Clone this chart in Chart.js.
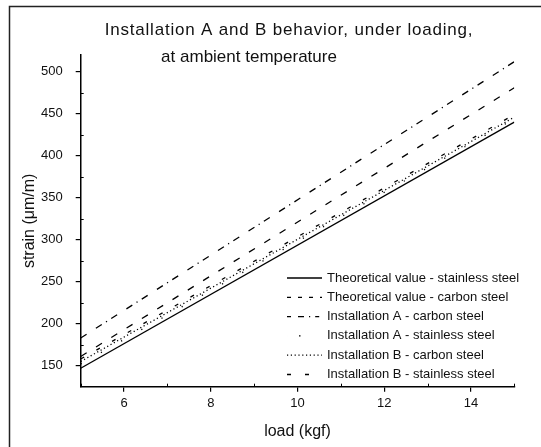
<!DOCTYPE html>
<html>
<head>
<meta charset="utf-8">
<script src="https://cdn.jsdelivr.net/npm/chart.js@4/dist/chart.umd.min.js"></script>
<style>
  html, body { margin: 0; padding: 0; background: #fff; }
  #wrap { width: 541px; height: 447px; }
</style>
</head>
<body>
<div id="wrap"><canvas id="c" width="541" height="447"></canvas></div>
<script>
// Load (kgf) at which each curve is given
const loads = [5, 15];

// Strain (µm/m) for each series
const theoStainless = [147, 440];
const theoCarbon = [161, 481];
const instACarbon = [183, 512];
const instAStainless = [152, 444];
const instBCarbon = [155, 446];
const instBStainless = [158, 449];

// Axis tick labels
const xTicks = [6, 8, 10, 12, 14];
const yTicks = [150, 200, 250, 300, 350, 400, 450, 500];
const xMinor = [5, 7, 9, 11, 13, 15];
const yMinor = [175, 225, 275, 325, 375, 425, 475];

const titleLines = ['Installation A and B behavior, under loading,', 'at ambient temperature'];

const FONT = '"Liberation Sans", Arial, Helvetica, sans-serif';

function pts(ys) { return loads.map((x, i) => ({ x: x, y: ys[i] })); }

function series(label, ys, dash, width) {
  return {
    label: label,
    data: pts(ys),
    borderColor: '#000',
    backgroundColor: '#000',
    borderWidth: width || 1.3,
    borderDash: dash,
    pointRadius: 0,
    fill: false,
    tension: 0
  };
}

// Frame, title, minor ticks and in-plot legend
const decor = {
  id: 'decor',
  afterDraw(chart) {
    const ctx = chart.ctx;
    const xs = chart.scales.x, ys = chart.scales.y;
    ctx.save();

    // outer frame
    ctx.strokeStyle = '#222';
    ctx.lineWidth = 1.5;
    ctx.beginPath();
    ctx.moveTo(9.5, 447);
    ctx.lineTo(9.5, 6.5);
    ctx.lineTo(541, 6.5);
    ctx.stroke();

    // title
    ctx.fillStyle = '#111';
    ctx.font = '17px ' + FONT;
    ctx.textAlign = 'center';
    ctx.textBaseline = 'middle';
    ctx.letterSpacing = '0.8px';
    ctx.fillText(titleLines[0], 289, 30);
    ctx.letterSpacing = '0px';
    ctx.fillText(titleLines[1], 249, 57);

    // minor ticks pointing into the plot
    ctx.strokeStyle = '#000';
    ctx.lineWidth = 1;
    const left = chart.chartArea.left, bottom = chart.chartArea.bottom;
    ctx.beginPath();
    yMinor.forEach(v => {
      const y = Math.round(ys.getPixelForValue(v)) + 0.5;
      ctx.moveTo(left, y); ctx.lineTo(left + 3, y);
    });
    xMinor.forEach(v => {
      const x = Math.round(xs.getPixelForValue(v)) + 0.5;
      ctx.moveTo(x, bottom); ctx.lineTo(x, bottom - 3);
    });
    ctx.stroke();

    // legend inside the plot area
    const lx0 = 287, lx1 = 322, tx = 327, ty0 = 278, step = 19.3;
    ctx.font = '13px ' + FONT;
    ctx.textAlign = 'left';
    ctx.textBaseline = 'middle';
    chart.data.datasets.forEach((ds, i) => {
      const y = ty0 + i * step;
      ctx.save();
      ctx.strokeStyle = ds.borderColor;
      ctx.lineWidth = ds.borderWidth;
      ctx.setLineDash(ds.legendDash || ds.borderDash || []);
      ctx.beginPath();
      ctx.moveTo(lx0, y); ctx.lineTo(lx1, y);
      ctx.stroke();
      ctx.restore();
      ctx.fillStyle = '#111';
      ctx.fillText(ds.label, tx, y);
    });
    ctx.restore();
  }
};

const datasets = [
  series('Theoretical value - stainless steel', theoStainless, []),
  series('Theoretical value - carbon steel', theoCarbon, [7, 11]),
  series('Installation A - carbon steel', instACarbon, [7, 11, 7, 5, 1.2, 5]),
  series('Installation A - stainless steel', instAStainless, [1.2, 22]),
  series('Installation B - carbon steel', instBCarbon, [1.2, 2.6]),
  series('Installation B - stainless steel', instBStainless, [4, 14])
];
datasets[1].legendDash = [4, 7];
datasets[2].legendDash = [4, 7, 6, 5, 1.2, 5];
datasets[3].legendDash = [0.01, 12, 1.5, 40];

new Chart(document.getElementById('c'), {
  type: 'line',
  data: { datasets: datasets },
  options: {
    responsive: false,
    animation: false,
    devicePixelRatio: 1,
    layout: { padding: { left: 0, right: 26.7, top: 55, bottom: 0 } },
    plugins: {
      legend: { display: false },
      title: { display: false },
      tooltip: { enabled: false }
    },
    scales: {
      x: {
        type: 'linear',
        min: 5,
        max: 15,
        afterBuildTicks: s => { s.ticks = xTicks.map(v => ({ value: v })); },
        afterFit: s => { s.height = 60.3; },
        border: { display: true, color: '#000', width: 1.5 },
        grid: { drawOnChartArea: false, drawTicks: true, tickLength: 5, color: '#000', lineWidth: 1.2 },
        ticks: { color: '#111', font: { family: FONT, size: 13 }, padding: 4, maxRotation: 0 },
        title: { display: true, text: 'load (kgf)', color: '#111', font: { family: FONT, size: 16 }, padding: { top: 0, bottom: 6 } }
      },
      y: {
        type: 'linear',
        min: 125,
        max: 520,
        afterBuildTicks: s => { s.ticks = yTicks.map(v => ({ value: v })); },
        afterFit: s => { s.width = 80.7; },
        border: { display: true, color: '#000', width: 1.5 },
        grid: { drawOnChartArea: false, drawTicks: true, tickLength: 5, color: '#000', lineWidth: 1.2 },
        ticks: { color: '#111', font: { family: FONT, size: 13 }, padding: 13 },
        title: { display: true, text: 'strain (μm/m)', color: '#111', font: { family: FONT, size: 16 }, padding: { top: 20, bottom: 0 } }
      }
    }
  },
  plugins: [decor]
});
</script>
</body>
</html>
